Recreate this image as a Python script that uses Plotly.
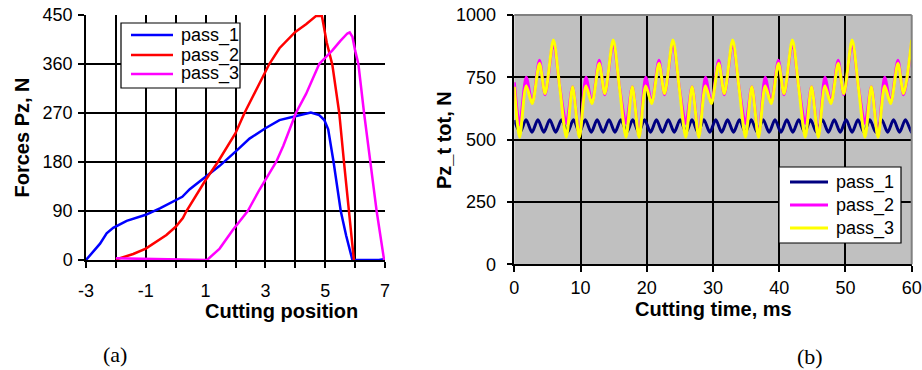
import plotly.graph_objects as go

# ---------------- (a) Forces vs cutting position ----------------
pos_p1 = [-3, -2.53, -2.31, -2.09, -1.64, -1.31, -1, -0.53, -0.09, 0.22, 0.47, 1, 1.47, 2, 2.47,
          3, 3.47, 4, 4.52, 4.8, 4.97, 5.1, 5.28, 5.52, 5.7, 5.91, 6.8, 7]
f_p1 = [0, 30, 49, 59, 72, 78, 83, 95, 107, 116, 130, 153, 173, 199, 223,
        242, 257, 264, 271, 266, 257, 240, 180, 90, 45, 0, 0, 2]

pos_p2 = [-2, -1.42, -1, -0.31, 0, 0.24, 0.36, 0.6, 1, 1.41, 2, 2.3, 2.69, 3.13, 3.47, 4, 4.36,
          4.69, 4.89, 4.95, 5.05, 5.24, 5.47, 5.63, 5.8, 5.96]
f_p2 = [1, 11, 21, 46, 61, 77, 90, 112, 147, 180, 233, 270, 312, 360, 389, 419, 433,
        448, 448, 430, 400, 358, 270, 179, 90, 0]

pos_p3 = [-2, -1, -0.3, 1.05, 1.47, 1.91, 2.41, 2.8, 3.36, 3.6, 4.02, 4.36, 4.8, 5.24, 5.5, 5.74,
          5.82, 5.91, 6.0, 6.11, 6.3, 6.5, 6.72, 6.97]
f_p3 = [3, 2, 0, 0, 21, 55, 90, 129, 180, 210, 270, 305, 360, 385, 402, 416,
        418, 410, 385, 360, 270, 180, 90, 0]

# ---------------- (b) Pz_t tot vs cutting time ----------------
t_p1 = [0, 0.88, 1.77, 2.67, 3.56, 4.46, 5.35, 6.25, 7.14, 8.04, 8.93, 9.83, 10.72, 11.62, 12.51,
        13.41, 14.30, 15.20, 16.09, 16.99, 17.88, 18.78, 19.67, 20.57, 21.46, 22.36, 23.25,
        24.15, 25.04, 25.94, 26.83, 27.73, 28.62, 29.52, 30.41, 31.31, 32.20, 33.10, 33.99,
        34.89, 35.78, 36.68, 37.57, 38.47, 39.36, 40.26, 41.15, 42.05, 42.94, 43.84, 44.73,
        45.63, 46.52, 47.42, 48.31, 49.21, 50.10, 51.00, 51.89, 52.79, 53.68, 54.58, 55.47,
        56.37, 57.26, 58.16, 59.05, 59.95, 60]
pz_p1 = [578, 530, 580, 530, 580, 530, 580, 530, 580, 530, 580, 530, 580, 530, 580,
         530, 580, 530, 580, 530, 580, 530, 580, 530, 580, 530, 580,
         530, 580, 530, 580, 530, 580, 530, 580, 530, 580, 530, 580,
         530, 580, 530, 580, 530, 580, 530, 580, 530, 580, 530, 580,
         530, 580, 530, 580, 530, 580, 530, 580, 530, 580, 530, 580,
         530, 580, 530, 580, 530, 531]

t_p23 = [0,
         0.8, 1.8, 2.7, 3.8, 4.65, 5.9, 6.9, 7.85, 8.8,
         9.82, 10.82, 11.72, 12.82, 13.67, 14.92, 15.92, 16.87, 17.82,
         18.84, 19.84, 20.74, 21.84, 22.69, 23.94, 24.94, 25.89, 26.84,
         27.86, 28.86, 29.76, 30.86, 31.71, 32.96, 33.96, 34.91, 35.86,
         36.88, 37.88, 38.78, 39.88, 40.73, 41.98, 42.98, 43.93, 44.88,
         45.9, 46.9, 47.8, 48.9, 49.75, 51.0, 52.0, 52.95, 53.9,
         54.92, 55.92, 56.82, 57.92, 58.77, 60.0]
pz_p2 = [730,
         560, 750, 648, 818, 680, 890, 705, 565, 712,
         515, 750, 648, 818, 680, 890, 705, 565, 712,
         515, 750, 648, 818, 680, 890, 705, 565, 712,
         515, 750, 648, 818, 680, 890, 705, 565, 712,
         515, 750, 648, 818, 680, 890, 705, 565, 712,
         515, 750, 648, 818, 680, 890, 705, 565, 712,
         515, 750, 648, 818, 680, 890]
pz_p3 = [712,
         510, 715, 645, 805, 685, 900, 700, 510, 712,
         510, 715, 645, 805, 685, 900, 700, 510, 712,
         510, 715, 645, 805, 685, 900, 700, 510, 712,
         510, 715, 645, 805, 685, 900, 700, 510, 712,
         510, 715, 645, 805, 685, 900, 700, 510, 712,
         510, 715, 645, 805, 685, 900, 700, 510, 712,
         510, 715, 645, 805, 685, 900]

x_ticks_a = [-3, -1, 1, 3, 5, 7]
x_labels_a = ["-3", "-1", "1", "3", "5", "7"]
y_ticks_a = [0, 90, 180, 270, 360, 450]
x_ticks_b = [0, 10, 20, 30, 40, 50, 60]
y_ticks_b = [0, 250, 500, 750, 1000]

names = ["pass_1", "pass_2", "pass_3"]
colors_a = ["#0000FF", "#FF0000", "#FF00FF"]
colors_b = ["#000080", "#FF00FF", "#FFFF00"]

W, H = 922, 370
FONT = "Liberation Sans, Arial, sans-serif"
SERIF = "Liberation Serif, Times New Roman, serif"


def px(x):
    return x / W


def py(y):
    return 1 - y / H


fig = go.Figure()

for xs, ys, name, col in zip([pos_p1, pos_p2, pos_p3], [f_p1, f_p2, f_p3], names, colors_a):
    fig.add_trace(go.Scatter(x=xs, y=ys, name=name, mode="lines",
                             line=dict(color=col, width=2.5),
                             xaxis="x", yaxis="y", showlegend=False))

for xs, ys, name, col in zip([t_p1, t_p23, t_p23], [pz_p1, pz_p2, pz_p3], names, colors_b):
    fig.add_trace(go.Scatter(x=xs, y=ys, name=name, mode="lines",
                             line=dict(color=col, width=3, shape="spline", smoothing=0.8),
                             xaxis="x2", yaxis="y2", showlegend=False))

grid = dict(showgrid=True, gridcolor="black", gridwidth=1.5, zeroline=False,
            showline=True, linecolor="black", linewidth=1.5, automargin=False,
            ticks="outside", ticklen=6, tickcolor="black", tickwidth=1.5,
            ticklabeloverflow="allow",
            tickfont=dict(family=FONT, size=18, color="black"))

shapes = [
    dict(type="rect", xref="x2 domain", yref="y2 domain", x0=0, x1=1, y0=0, y1=1,
         fillcolor="#C0C0C0", line=dict(width=0), layer="below"),
    dict(type="line", xref="x2 domain", yref="y2 domain", x0=0, x1=1, y0=1, y1=1,
         line=dict(color="#808080", width=2), layer="above"),
    dict(type="line", xref="x2 domain", yref="y2 domain", x0=1, x1=1, y0=0, y1=1,
         line=dict(color="#808080", width=2), layer="above"),
]
annotations = [
    dict(text="Forces Pz, N", x=px(21), y=py(137.5), textangle=-90,
         font=dict(family=FONT, size=20, color="black", weight="bold")),
    dict(text="Cutting position", x=px(281.5), y=py(311),
         font=dict(family=FONT, size=20, color="black", weight="bold")),
    dict(text="(a)", x=px(115), y=py(354),
         font=dict(family=SERIF, size=22, color="black")),
    dict(text="Pz_t tot, N", x=px(444), y=py(140), textangle=-90,
         font=dict(family=FONT, size=20, color="black", weight="bold")),
    dict(text="Cutting time, ms", x=px(713.5), y=py(309),
         font=dict(family=FONT, size=20, color="black", weight="bold")),
    dict(text="(b)", x=px(810), y=py(356),
         font=dict(family=SERIF, size=22, color="black")),
]

# legend boxes (reference pixel layout)
legends = [
    dict(box=(121, 23, 240, 88), line_x=(131, 173), rows=(35, 55, 74), text_x=179, colors=colors_a, lw=2.5),
    dict(box=(779, 167, 901, 243), line_x=(790, 828), rows=(182, 205, 228), text_x=834, colors=colors_b, lw=3),
]
for lg in legends:
    x0, y0, x1, y1 = lg["box"]
    shapes.append(dict(type="rect", xref="paper", yref="paper", x0=px(x0), x1=px(x1),
                       y0=py(y1), y1=py(y0), fillcolor="white",
                       line=dict(color="black", width=1.2), layer="above"))
    for name, col, ry in zip(names, lg["colors"], lg["rows"]):
        shapes.append(dict(type="line", xref="paper", yref="paper",
                           x0=px(lg["line_x"][0]), x1=px(lg["line_x"][1]),
                           y0=py(ry), y1=py(ry), line=dict(color=col, width=lg["lw"]),
                           layer="above"))
        annotations.append(dict(text=name, x=px(lg["text_x"]), y=py(ry), xanchor="left",
                                font=dict(family=FONT, size=18, color="black")))

for a in annotations:
    a.setdefault("xref", "paper")
    a.setdefault("yref", "paper")
    a.setdefault("showarrow", False)
    a.setdefault("xanchor", "center")
    a.setdefault("yanchor", "middle")

fig.update_layout(
    width=W, height=H,
    margin=dict(l=0, r=0, t=0, b=0, autoexpand=False),
    paper_bgcolor="white", plot_bgcolor="rgba(0,0,0,0)",
    showlegend=False,
    xaxis=dict(domain=[px(86), px(385)], range=[-3, 7], tickvals=x_ticks_a, ticktext=x_labels_a,
               minor=dict(dtick=1, tick0=-3, showgrid=True, gridcolor="black", gridwidth=1.5,
                          ticks="outside", ticklen=6, tickcolor="black", tickwidth=1.5),
               anchor="y", ticklabelstandoff=8, **grid),
    yaxis=dict(domain=[py(260), py(15)], range=[0, 450], tickvals=y_ticks_a,
               anchor="x", ticklabelstandoff=2, **grid),
    xaxis2=dict(domain=[px(514.3), px(911.7)], range=[0, 60], tickvals=x_ticks_b,
                anchor="y2", ticklabelstandoff=0, **grid),
    yaxis2=dict(domain=[py(264.3), py(15)], range=[0, 1000], tickvals=y_ticks_b,
                anchor="x2", ticklabelstandoff=7, **grid),
    shapes=shapes,
    annotations=annotations,
)

fig.write_html("out.html")
